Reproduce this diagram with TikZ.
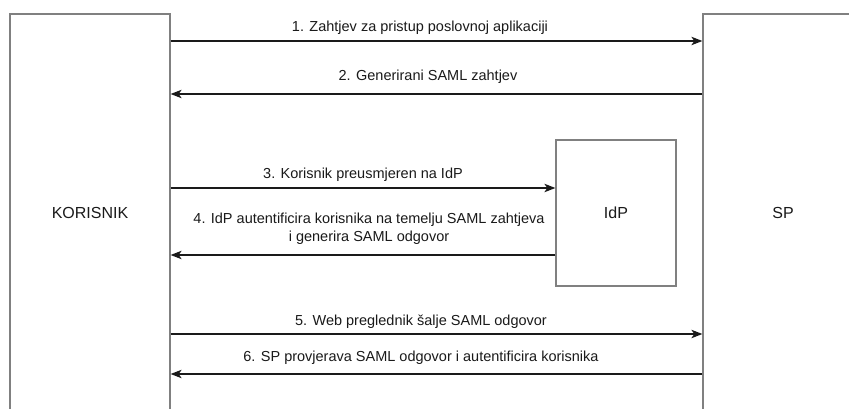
\documentclass[tikz,border=0pt]{standalone}
\usepackage{fontspec}
\setmainfont{Liberation Sans}
\usetikzlibrary{arrows.meta}
\definecolor{boxline}{HTML}{808080}
\definecolor{arrline}{HTML}{1A1A1A}
\definecolor{txt}{HTML}{1A1A1A}
\begin{document}
\begin{tikzpicture}[x=1pt,y=-1pt,
  actor/.style={draw=boxline, line width=1.3pt, fill=white, inner sep=0pt,
    text=txt, font=\fontsize{16}{19}\selectfont},
  msg/.style={draw=arrline, line width=1.1pt,
    -{Stealth[length=11pt,width=8.5pt,inset=3pt]}},
  lbl/.style={text=txt, font=\fontsize{14.5}{17.5}\selectfont, inner sep=0pt, align=center}]
\useasboundingbox (0,0) rectangle (849,409);
\fill[white] (0,0) rectangle (849,409);
\node[actor, minimum width=160pt, minimum height=398pt] (kor) at (90,213) {KORISNIK};
\node[actor, minimum width=160pt, minimum height=398pt] (sp) at (783,213) {SP};
\node[actor, minimum width=120pt, minimum height=146pt] (idp) at (616,213) {IdP};
% messages
\draw[msg] (kor.east |- 0,41) -- (sp.west |- 0,41);
\node[lbl] (l1) at (420,28) {1. Zahtjev za pristup poslovnoj aplikaciji};
\draw[msg] (sp.west |- 0,94) -- (kor.east |- 0,94);
\node[lbl] (l2) at (428,77) {2. Generirani SAML zahtjev};
\draw[msg] (kor.east |- 0,188) -- (idp.west |- 0,188);
\node[lbl] (l3) at (363,175) {3. Korisnik preusmjeren na IdP};
\draw[msg] (idp.west |- 0,255) -- (kor.east |- 0,255);
\node[lbl] (l4) at (369,229) {4. IdP autentificira korisnika na temelju SAML zahtjeva\\i generira SAML odgovor};
\draw[msg] (kor.east |- 0,334) -- (sp.west |- 0,334);
\node[lbl] (l5) at (421,322) {5. Web preglednik šalje SAML odgovor};
\draw[msg] (sp.west |- 0,374) -- (kor.east |- 0,374);
\node[lbl] (l6) at (421,358) {6. SP provjerava SAML odgovor i autentificira korisnika};
\end{tikzpicture}
\end{document}
